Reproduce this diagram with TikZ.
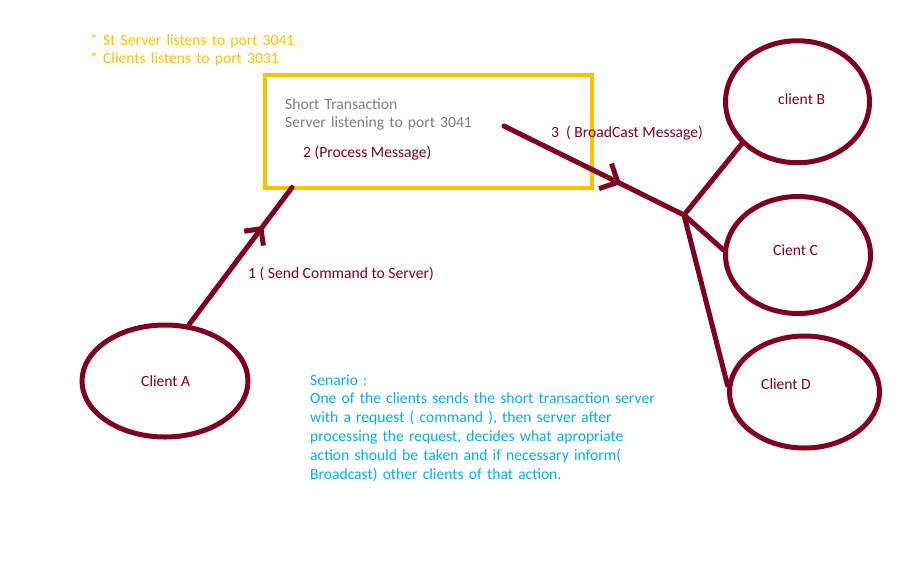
\documentclass[tikz,border=0pt]{standalone}
\usepackage{fontspec}
\setmainfont{Carlito}
\usetikzlibrary{arrows.meta,decorations.markings,shapes.geometric,calc}
\definecolor{wine}{RGB}{128,0,32}
\definecolor{gold}{RGB}{255,192,0}
\definecolor{sky}{RGB}{0,176,240}
\definecolor{greytxt}{RGB}{127,127,127}
\begin{document}
\begin{tikzpicture}[x=1pt,y=-1pt,
  every node/.style={font=\fontsize{15.6pt}{18.8pt}\selectfont},
  client/.style={draw=wine, line width=5pt, ellipse, inner sep=0pt},
  txt/.style={anchor=base west, inner sep=0pt, align=left},
  conn/.style={draw=wine, line width=5pt, line cap=round},
  midarrow/.style 2 args={postaction={decorate}, decoration={markings,
     mark=at position #1 with {\arrow[line width=5pt]{#2}}}}
]
\useasboundingbox (0,0) rectangle (907,560);
\fill[white] (0,0) rectangle (907,560);

% notes
\node[txt, text=gold, text width=260pt] (notes) at (90,45)
  {* St Server listens to port 3041\\{}* Clients listens to port 3031};

% server box
\node[draw=gold, line width=4pt, rectangle, outer sep=0pt, inner sep=0pt,
      minimum width=326.5pt, minimum height=113pt] (box) at (428.25,131) {};
\node[txt, text=greytxt, text width=220pt] (boxtitle) at (285,109)
  {Short Transaction\\Server listening to port 3041};
\node[txt, text=wine] (step2) at (303,157) {2 (Process Message)};

% clients
\node[client, minimum width=166pt, minimum height=112pt] (A) at (165,381) {};
\node[client, minimum width=144pt, minimum height=122pt] (B) at (797.5,101.75) {};
\node[client, minimum width=145pt, minimum height=117pt] (C) at (798,255) {};
\node[client, minimum width=150pt, minimum height=112pt] (D) at (804.5,392) {};
\node[txt, text=wine] (Atext) at (141,386) {Client A};
\node[txt, text=wine] (Btext) at (778,104) {client B};
\node[txt, text=wine] (Ctext) at (773,255) {Cient C};
\node[txt, text=wine] (Dtext) at (761,389) {Client D};

% labels
\node[txt, text=wine] (step1) at (248,278) {1 ( Send Command to Server)};
\node[txt, text=wine] (step3) at (551,137) {3~~( BroadCast Message)};

% scenario
\node[txt, text=sky, text width=380pt] (scen) at (310,385)
  {Senario :\\
   One of the clients sends the short transaction server\\
   with a request ( command ), then server after\\
   processing the request, decides what apropriate\\
   action should be taken and if necessary inform(\\
   Broadcast) other clients of that action.};

% connectors
\coordinate (s3) at (504,126);
\coordinate (J) at (684,215);
\draw[conn, midarrow={0.72}{Straight Barb[length=12pt,width=24pt]}]
  (A.67) -- ([xshift=27pt]box.south west);
\draw[conn, midarrow={0.65}{Straight Barb[length=14pt,width=28pt]}]
  (s3) -- (J);
\draw[conn] (J) -- (B.217);
\draw[conn] (J) -- (C.176);
\draw[conn] (J) -- (D.175);
\end{tikzpicture}
\end{document}
